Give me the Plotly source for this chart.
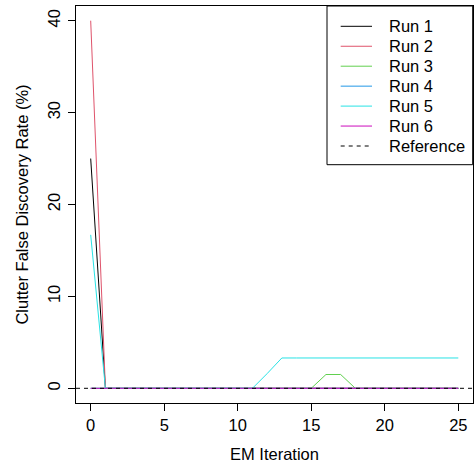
import plotly.graph_objects as go

# ---- data ----
iterations = [0, 1, 2, 3, 4, 5, 6, 7, 8, 9, 10, 11, 12, 13, 14, 15, 16, 17, 18, 19, 20, 21, 22, 23, 24, 25]
run1 = [25, 0, 0, 0, 0, 0, 0, 0, 0, 0, 0, 0, 0, 0, 0, 0, 0, 0, 0, 0, 0, 0, 0, 0, 0, 0]
run2 = [40, 0, 0, 0, 0, 0, 0, 0, 0, 0, 0, 0, 0, 0, 0, 0, 0, 0, 0, 0, 0, 0, 0, 0, 0, 0]
run3 = [0, 0, 0, 0, 0, 0, 0, 0, 0, 0, 0, 0, 0, 0, 0, 0, 1.5, 1.5, 0, 0, 0, 0, 0, 0, 0, 0]
run4 = [0, 0, 0, 0, 0, 0, 0, 0, 0, 0, 0, 0, 0, 0, 0, 0, 0, 0, 0, 0, 0, 0, 0, 0, 0, 0]
run5 = [16.7, 0, 0, 0, 0, 0, 0, 0, 0, 0, 0, 0, 1.6, 3.3, 3.3, 3.3, 3.3, 3.3, 3.3, 3.3, 3.3, 3.3, 3.3, 3.3, 3.3, 3.3]
run6 = [0, 0, 0, 0, 0, 0, 0, 0, 0, 0, 0, 0, 0, 0, 0, 0, 0, 0, 0, 0, 0, 0, 0, 0, 0, 0]
reference_level = 0

series_names = ["Run 1", "Run 2", "Run 3", "Run 4", "Run 5", "Run 6"]
series_values = [run1, run2, run3, run4, run5, run6]
series_colors = ["#000000", "#DF536B", "#61D04F", "#2297E6", "#28E2E5", "#CD0BBC"]

x_ticks = [0, 5, 10, 15, 20, 25]
y_ticks = [0, 10, 20, 30, 40]

# ---- layout geometry ----
W, H = 475, 468
L, R, T, B = 76, 2, 6, 65
PW, PH = W - L - R, H - T - B
FONT = "Liberation Sans, Arial, Helvetica, sans-serif"
FS = 16.5


def px_x(px):
    return (px - L) / PW


def px_y(py):
    return 1 - (py - T) / PH


fig = go.Figure()
for name, ys, col in zip(series_names, series_values, series_colors):
    fig.add_trace(go.Scatter(x=iterations, y=ys, mode="lines", name=name,
                             line=dict(color=col, width=1), showlegend=False))

fig.add_hline(y=reference_level, line=dict(color="black", width=1, dash="4px,4px"))

fig.update_layout(
    width=W, height=H,
    margin=dict(l=L, r=R, t=T, b=B),
    plot_bgcolor="white", paper_bgcolor="white",
    font=dict(family=FONT, size=FS, color="black"),
    showlegend=False,
)
fig.update_xaxes(range=[-1, 26], tickvals=x_ticks, ticks="outside", ticklen=7,
                 tickcolor="black", tickwidth=1, showline=True, mirror=True,
                 linecolor="black", linewidth=1, showgrid=False, zeroline=False,
                 ticklabelstandoff=0,
                 title=dict(text="EM Iteration", standoff=15, font=dict(size=FS)))
fig.update_yaxes(range=[-1.6, 41.6], tickvals=y_ticks, ticks="outside", ticklen=7,
                 tickcolor="black", tickwidth=1, showline=True, mirror=True,
                 linecolor="black", linewidth=1, showgrid=False, zeroline=False,
                 tickangle=-90, ticklabelstandoff=1,
                 title=dict(text="Clutter False Discovery Rate (%)", standoff=12, font=dict(size=FS)))

# ---- legend (drawn manually to match R's compact layout) ----
lx0, lx1, ly0, ly1 = 327, 472.7, 6, 164.7
fig.add_shape(type="rect", xref="paper", yref="paper",
              x0=px_x(lx0), x1=px_x(lx1), y0=px_y(ly1), y1=px_y(ly0),
              line=dict(color="black", width=1), fillcolor="white", layer="above")
legend_names = series_names + ["Reference"]
legend_colors = series_colors + ["#000000"]
legend_dash = ["solid"] * 6 + ["4px,4px"]
for i, (nm, col, dsh) in enumerate(zip(legend_names, legend_colors, legend_dash)):
    yc = 26.3 + i * 19.95
    fig.add_shape(type="line", xref="paper", yref="paper",
                  x0=px_x(340.7), x1=px_x(372), y0=px_y(yc), y1=px_y(yc),
                  line=dict(color=col, width=1, dash=dsh), layer="above")
    fig.add_annotation(xref="paper", yref="paper", x=px_x(387.5), y=px_y(yc),
                       text=nm, showarrow=False, xanchor="left", yanchor="middle",
                       font=dict(family=FONT, size=FS, color="black"),
                       xshift=-1, yshift=0)

fig.write_html("out.html")
